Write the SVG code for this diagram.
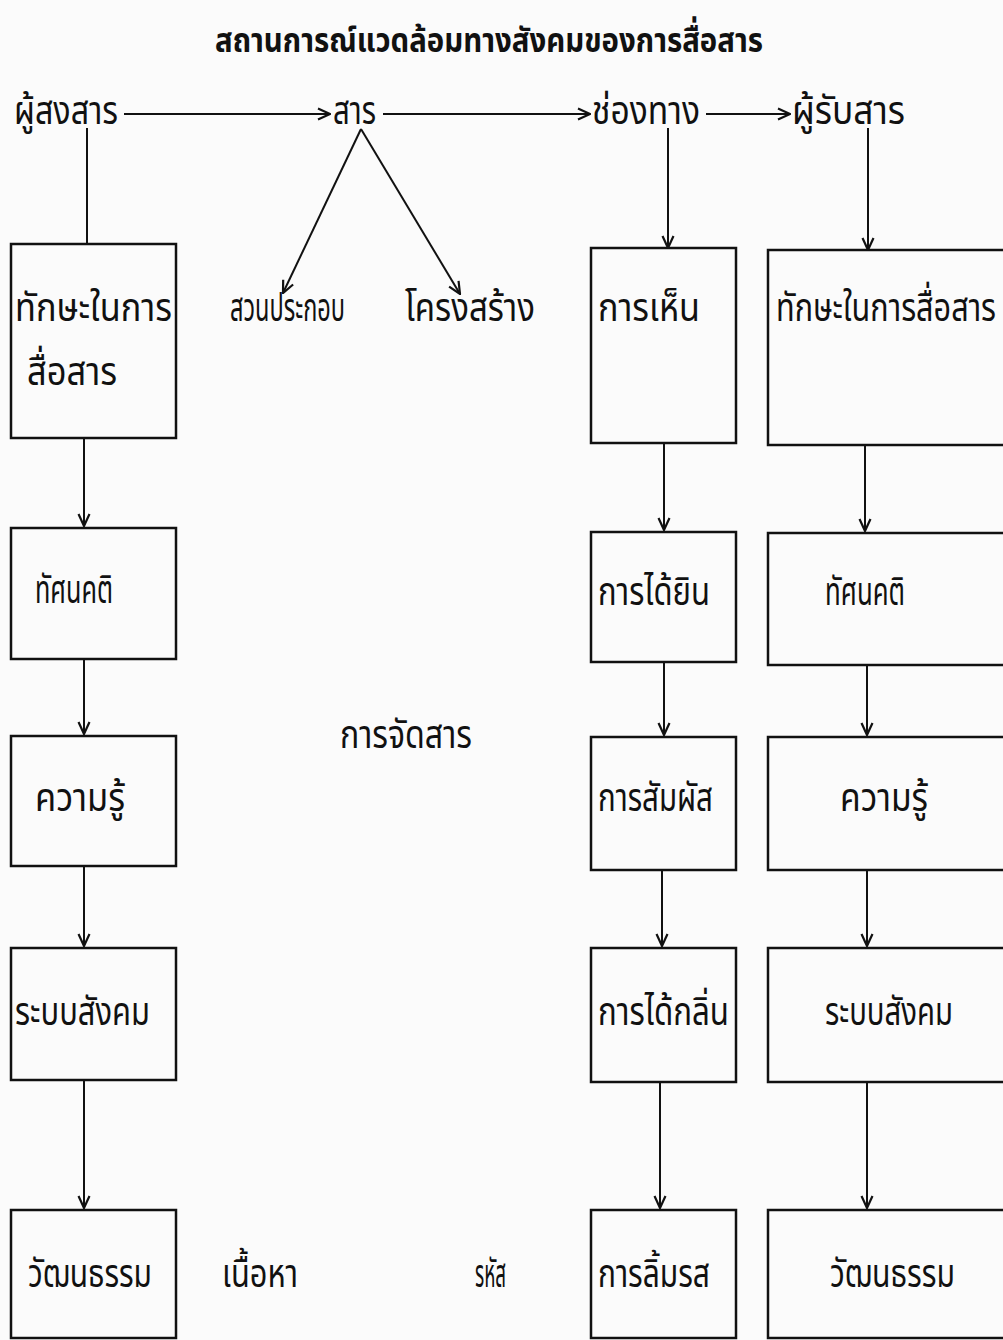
<svg xmlns="http://www.w3.org/2000/svg" width="1003" height="1340" viewBox="0 0 1003 1340">
<defs>
<marker id="ah" markerWidth="14" markerHeight="14" viewBox="0 0 14 14" refX="13" refY="7" orient="auto" markerUnits="userSpaceOnUse">
<path d="M1,1.5 L13,7 L1,12.5" fill="none" stroke="#111" stroke-width="2.2"/>
</marker>
<style>
.bx{fill:none;stroke:#111;stroke-width:2.5}
.ln{fill:none;stroke:#111;stroke-width:2}
.t{font-family:"Noto Sans Thai","Noto Sans","DejaVu Sans",sans-serif;font-size:30px;fill:#111}
.h{font-family:"Noto Sans Thai","Noto Sans","DejaVu Sans",sans-serif;font-size:30px;font-weight:bold;fill:#111}
</style>
</defs>
<rect width="1003" height="1340" fill="#fbfbfb"/>
<text class="h" x="215" y="52" transform="matrix(1 0 0 1.15 0 -7.8)" textLength="548" lengthAdjust="spacingAndGlyphs">สถานการณ์แวดล้อมทางสังคมของการสื่อสาร</text>

<g id="sender"><text class="t" x="14" y="124" transform="matrix(1 0 0 1.3 0 -37.2)" textLength="104" lengthAdjust="spacingAndGlyphs">ผู้สงสาร</text></g>
<g id="message"><text class="t" x="333" y="124" transform="matrix(1 0 0 1.3 0 -37.2)" textLength="43" lengthAdjust="spacingAndGlyphs">สาร</text></g>
<g id="channel"><text class="t" x="592" y="124" transform="matrix(1 0 0 1.3 0 -37.2)" textLength="108" lengthAdjust="spacingAndGlyphs">ช่องทาง</text></g>
<g id="receiver"><text class="t" x="792" y="124" transform="matrix(1 0 0 1.3 0 -37.2)" textLength="113" lengthAdjust="spacingAndGlyphs">ผู้รับสาร</text></g>
<g id="element"><text class="t" x="230" y="321" transform="matrix(1 0 0 1.3 0 -96.3)" textLength="115" lengthAdjust="spacingAndGlyphs">สวนประกอบ</text></g>
<g id="structure"><text class="t" x="405" y="321" transform="matrix(1 0 0 1.3 0 -96.3)" textLength="130" lengthAdjust="spacingAndGlyphs">โครงสร้าง</text></g>
<g id="arrange"><text class="t" x="340" y="748" transform="matrix(1 0 0 1.3 0 -224.4)" textLength="132" lengthAdjust="spacingAndGlyphs">การจัดสาร</text></g>
<g id="content"><text class="t" x="222" y="1287" transform="matrix(1 0 0 1.3 0 -386.1)" textLength="76" lengthAdjust="spacingAndGlyphs">เนื้อหา</text></g>
<g id="code"><text class="t" x="475" y="1287" transform="matrix(1 0 0 1.3 0 -386.1)" textLength="31" lengthAdjust="spacingAndGlyphs">รหัส</text></g>

<g id="s1"><rect class="bx" x="11" y="244" width="165" height="194"/>
<text class="t" x="15" y="321" transform="matrix(1 0 0 1.3 0 -96.3)" textLength="157" lengthAdjust="spacingAndGlyphs">ทักษะในการ</text>
<text class="t" x="27" y="385" transform="matrix(1 0 0 1.3 0 -115.5)" textLength="90" lengthAdjust="spacingAndGlyphs">สื่อสาร</text></g>
<g id="s2"><rect class="bx" x="11" y="528" width="165" height="131"/>
<text class="t" x="35" y="603" transform="matrix(1 0 0 1.3 0 -180.9)" textLength="78" lengthAdjust="spacingAndGlyphs">ทัศนคติ</text></g>
<g id="s3"><rect class="bx" x="11" y="736" width="165" height="130"/>
<text class="t" x="35" y="811" transform="matrix(1 0 0 1.3 0 -243.3)" textLength="90" lengthAdjust="spacingAndGlyphs">ความรู้</text></g>
<g id="s4"><rect class="bx" x="11" y="948" width="165" height="132"/>
<text class="t" x="15" y="1025" transform="matrix(1 0 0 1.3 0 -307.5)" textLength="135" lengthAdjust="spacingAndGlyphs">ระบบสังคม</text></g>
<g id="s5"><rect class="bx" x="11" y="1210" width="165" height="128"/>
<text class="t" x="28" y="1287" transform="matrix(1 0 0 1.3 0 -386.1)" textLength="124" lengthAdjust="spacingAndGlyphs">วัฒนธรรม</text></g>

<g id="c1"><rect class="bx" x="591" y="248" width="145" height="195"/>
<text class="t" x="598" y="321" transform="matrix(1 0 0 1.3 0 -96.3)" textLength="102" lengthAdjust="spacingAndGlyphs">การเห็น</text></g>
<g id="c2"><rect class="bx" x="591" y="532" width="145" height="130"/>
<text class="t" x="598" y="605" transform="matrix(1 0 0 1.3 0 -181.5)" textLength="112" lengthAdjust="spacingAndGlyphs">การได้ยิน</text></g>
<g id="c3"><rect class="bx" x="591" y="737" width="145" height="133"/>
<text class="t" x="598" y="811" transform="matrix(1 0 0 1.3 0 -243.3)" textLength="115" lengthAdjust="spacingAndGlyphs">การสัมผัส</text></g>
<g id="c4"><rect class="bx" x="591" y="948" width="145" height="134"/>
<text class="t" x="598" y="1025" transform="matrix(1 0 0 1.3 0 -307.5)" textLength="131" lengthAdjust="spacingAndGlyphs">การได้กลิ่น</text></g>
<g id="c5"><rect class="bx" x="591" y="1210" width="145" height="128"/>
<text class="t" x="598" y="1287" transform="matrix(1 0 0 1.3 0 -386.1)" textLength="112" lengthAdjust="spacingAndGlyphs">การลิ้มรส</text></g>

<g id="r1"><rect class="bx" x="768" y="250" width="245" height="195"/>
<text class="t" x="776" y="321" transform="matrix(1 0 0 1.3 0 -96.3)" textLength="220" lengthAdjust="spacingAndGlyphs">ทักษะในการสื่อสาร</text></g>
<g id="r2"><rect class="bx" x="768" y="533" width="245" height="132"/>
<text class="t" x="825" y="605" transform="matrix(1 0 0 1.3 0 -181.5)" textLength="80" lengthAdjust="spacingAndGlyphs">ทัศนคติ</text></g>
<g id="r3"><rect class="bx" x="768" y="737" width="245" height="133"/>
<text class="t" x="840" y="811" transform="matrix(1 0 0 1.3 0 -243.3)" textLength="88" lengthAdjust="spacingAndGlyphs">ความรู้</text></g>
<g id="r4"><rect class="bx" x="768" y="948" width="245" height="134"/>
<text class="t" x="825" y="1025" transform="matrix(1 0 0 1.3 0 -307.5)" textLength="128" lengthAdjust="spacingAndGlyphs">ระบบสังคม</text></g>
<g id="r5"><rect class="bx" x="768" y="1210" width="245" height="128"/>
<text class="t" x="830" y="1287" transform="matrix(1 0 0 1.3 0 -386.1)" textLength="125" lengthAdjust="spacingAndGlyphs">วัฒนธรรม</text></g>

<g id="connectors">
<line class="ln" x1="124" y1="114" x2="330" y2="114" marker-end="url(#ah)"/>
<line class="ln" x1="383" y1="114" x2="590" y2="114" marker-end="url(#ah)"/>
<line class="ln" x1="706" y1="114" x2="790" y2="114" marker-end="url(#ah)"/>
<line class="ln" x1="87" y1="128" x2="87" y2="244"/>
<line class="ln" x1="361" y1="129" x2="283" y2="293" marker-end="url(#ah)"/>
<line class="ln" x1="361" y1="129" x2="460" y2="294" marker-end="url(#ah)"/>
<line class="ln" x1="668" y1="128" x2="668" y2="248" marker-end="url(#ah)"/>
<line class="ln" x1="868" y1="128" x2="868" y2="250" marker-end="url(#ah)"/>
<line class="ln" x1="84" y1="438" x2="84" y2="526" marker-end="url(#ah)"/>
<line class="ln" x1="84" y1="659" x2="84" y2="734" marker-end="url(#ah)"/>
<line class="ln" x1="84" y1="866" x2="84" y2="946" marker-end="url(#ah)"/>
<line class="ln" x1="84" y1="1080" x2="84" y2="1208" marker-end="url(#ah)"/>
<line class="ln" x1="664" y1="443" x2="664" y2="530" marker-end="url(#ah)"/>
<line class="ln" x1="664" y1="662" x2="664" y2="735" marker-end="url(#ah)"/>
<line class="ln" x1="662" y1="870" x2="662" y2="946" marker-end="url(#ah)"/>
<line class="ln" x1="660" y1="1082" x2="660" y2="1208" marker-end="url(#ah)"/>
<line class="ln" x1="865" y1="445" x2="865" y2="531" marker-end="url(#ah)"/>
<line class="ln" x1="867" y1="665" x2="867" y2="735" marker-end="url(#ah)"/>
<line class="ln" x1="867" y1="870" x2="867" y2="946" marker-end="url(#ah)"/>
<line class="ln" x1="867" y1="1082" x2="867" y2="1208" marker-end="url(#ah)"/>
</g>
</svg>
